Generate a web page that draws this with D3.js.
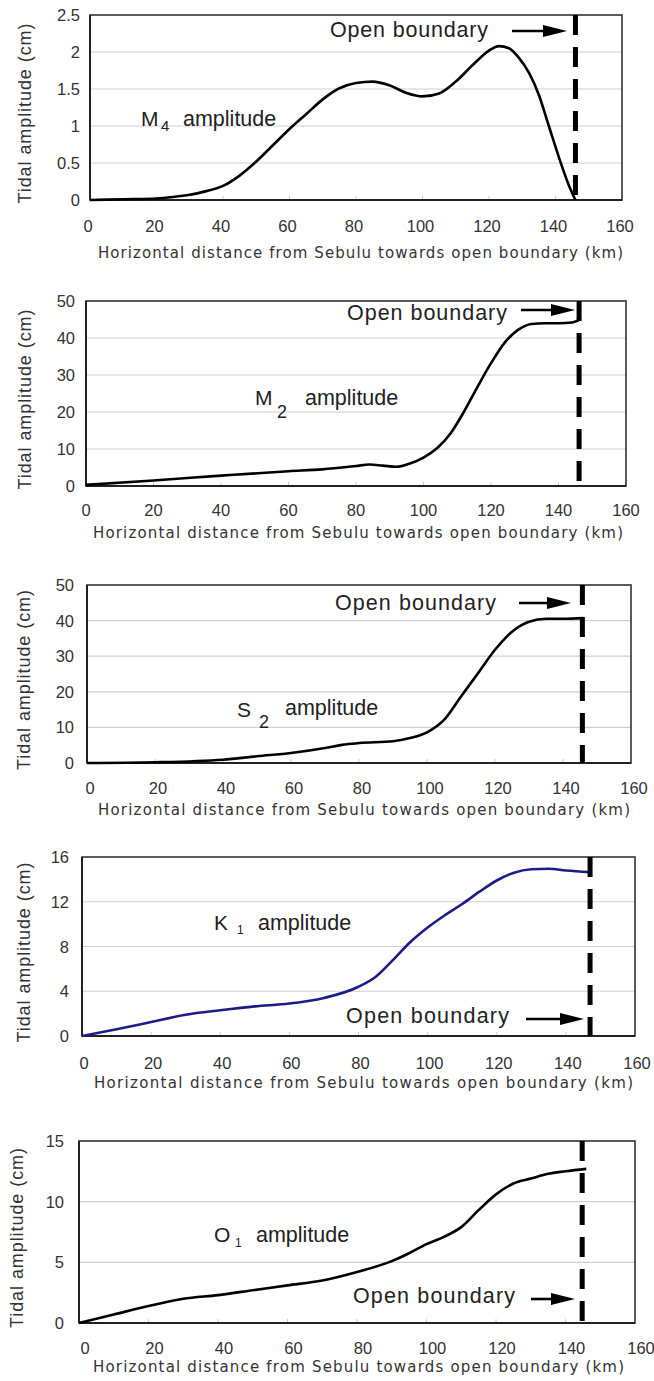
<!DOCTYPE html>
<html>
<head>
<meta charset="utf-8">
<script src="https://cdn.jsdelivr.net/npm/d3@7"></script>
<style>
  body { margin: 0; background: #fff; }
</style>
</head>
<body>
<div id="chart"></div>
<script>
// distance from Sebulu (km) and tidal amplitude (cm)
const m4Km  = [0, 10, 20, 25, 30, 35, 40, 45, 50, 55, 60, 65, 70, 75, 80, 85, 90, 95, 100, 105, 110, 115, 120, 123, 126, 129, 132, 135, 138, 141, 144, 146];
const m4Amp = [0, 0.01, 0.02, 0.04, 0.07, 0.12, 0.19, 0.33, 0.52, 0.74, 0.96, 1.16, 1.36, 1.51, 1.58, 1.6, 1.55, 1.45, 1.4, 1.44, 1.6, 1.82, 2.02, 2.08, 2.05, 1.92, 1.72, 1.42, 1.0, 0.58, 0.2, 0];

const m2Km  = [0, 20, 40, 60, 70, 80, 84, 88, 92, 96, 100, 104, 108, 112, 116, 120, 124, 128, 132, 136, 140, 144, 146];
const m2Amp = [0.3, 1.5, 2.8, 4.0, 4.5, 5.4, 5.8, 5.5, 5.2, 6.1, 7.7, 10.2, 14.2, 20.1, 26.8, 33.2, 38.7, 42.2, 43.8, 44, 44, 44.2, 44.8];

const s2Km  = [0, 20, 40, 50, 60, 70, 75, 80, 90, 95, 100, 105, 110, 115, 120, 125, 130, 135, 140, 146];
const s2Amp = [0, 0.2, 0.9, 1.9, 2.8, 4.2, 5.1, 5.6, 6.1, 7.0, 8.6, 12.1, 18.7, 25.2, 31.8, 36.9, 39.7, 40.5, 40.5, 40.7];

const k1Km  = [0, 10, 20, 30, 40, 50, 60, 70, 80, 85, 90, 95, 100, 105, 110, 115, 120, 125, 130, 135, 140, 147];
const k1Amp = [0, 0.6, 1.25, 1.9, 2.3, 2.65, 2.9, 3.4, 4.4, 5.3, 6.8, 8.4, 9.7, 10.8, 11.8, 12.9, 13.9, 14.6, 14.9, 14.95, 14.8, 14.65];

const o1Km  = [0, 10, 20, 30, 40, 50, 60, 70, 80, 90, 95, 100, 105, 110, 115, 120, 125, 130, 135, 140, 146];
const o1Amp = [0, 0.7, 1.4, 2.0, 2.3, 2.7, 3.1, 3.5, 4.2, 5.1, 5.75, 6.5, 7.1, 7.9, 9.3, 10.6, 11.5, 11.9, 12.3, 12.5, 12.7];

const xTicks  = [0, 20, 40, 60, 80, 100, 120, 140, 160];
const m4Ticks = [0, 0.5, 1, 1.5, 2, 2.5];
const m2Ticks = [0, 10, 20, 30, 40, 50];
const s2Ticks = [0, 10, 20, 30, 40, 50];
const k1Ticks = [0, 4, 8, 12, 16];
const o1Ticks = [0, 5, 10, 15];

const boundaryKm = [146, 146.1, 145.7, 147, 144.8];
const constituents = ["M", "M", "S", "K", "O"];
const subscripts = ["4", "2", "2", "1", "1"];
const lineColors = ["#000", "#000", "#000", "#1c1c86", "#000"];

const series = [
  {km: m4Km, amp: m4Amp, ticks: m4Ticks},
  {km: m2Km, amp: m2Amp, ticks: m2Ticks},
  {km: s2Km, amp: s2Amp, ticks: s2Ticks},
  {km: k1Km, amp: k1Amp, ticks: k1Ticks},
  {km: o1Km, amp: o1Amp, ticks: o1Ticks}
];

const yTitle = "Tidal amplitude (cm)";
const xTitle = "Horizontal distance from Sebulu towards open boundary (km)";

// where each panel sits on the page
const layout = [
  {l: 90, r: 622, t: 15,   b: 200,  gap: 10, ytx: 25, tickY: 226,  titleY: 253,  tl: 98, tr: 623, shift: -2,
   ob: [330, 488, 37],   arrow: [512, 567, 31],   name: [141, 126], sub: [161, 131, 15], rest: [183, 126]},
  {l: 86, r: 626, t: 301,  b: 486,  gap: 11, ytx: 25, tickY: 510,  titleY: 533,  tl: 93, tr: 623, shift: 0,
   ob: [347, 507, 320],  arrow: [521, 575, 310],  name: [255, 405], sub: [277, 418, 18], rest: [305, 405]},
  {l: 87, r: 631, t: 585,  b: 763,  gap: 13, ytx: 24, tickY: 788,  titleY: 810,  tl: 98, tr: 630, shift: 3,
   ob: [335, 496, 610],  arrow: [519, 571, 603],  name: [237, 717], sub: [259, 728, 18], rest: [285, 715]},
  {l: 82, r: 635, t: 857,  b: 1036, gap: 13, ytx: 24, tickY: 1063, titleY: 1083, tl: 94, tr: 633, shift: 2,
   ob: [346, 509, 1023], arrow: [526, 584, 1019], name: [214, 930], sub: [237, 934, 12], rest: [258, 930]},
  {l: 79, r: 635, t: 1141, b: 1323, gap: 15, ytx: 17, tickY: 1348, titleY: 1367, tl: 93, tr: 624, shift: 6,
   ob: [353, 515, 1303], arrow: [531, 575, 1299], name: [214, 1242], sub: [235, 1247, 12], rest: [256, 1242]}
];

const svg = d3.select("#chart").append("svg")
  .attr("width", 654).attr("height", 1381)
  .style("font-family", "'Liberation Sans', Arial, sans-serif");

series.forEach((s, i) => {
  const p = layout[i];
  const x = d3.scaleLinear().domain([0, 160]).range([p.l, p.r]);
  const y = d3.scaleLinear().domain([0, d3.max(s.ticks)]).range([p.b, p.t]);
  const g = svg.append("g");

  // horizontal gridlines
  g.selectAll(".grid").data(s.ticks.slice(1, -1)).enter().append("line")
    .attr("x1", p.l).attr("x2", p.r)
    .attr("y1", d => y(d)).attr("y2", d => y(d))
    .attr("stroke", "#cfcfcf").attr("stroke-width", 1.2);

  // faint tick marks on the bottom axis
  g.selectAll(".xt").data(xTicks.slice(1, -1)).enter().append("line")
    .attr("x1", d => x(d)).attr("x2", d => x(d))
    .attr("y1", p.b).attr("y2", p.b - 4)
    .attr("stroke", "#cccccc").attr("stroke-width", 1);

  // frame
  g.append("rect")
    .attr("x", p.l).attr("y", p.t)
    .attr("width", p.r - p.l).attr("height", p.b - p.t)
    .attr("fill", "none").attr("stroke", "#333").attr("stroke-width", 1.6);
  g.append("line")
    .attr("x1", p.l).attr("x2", p.r).attr("y1", p.b).attr("y2", p.b)
    .attr("stroke", "#222").attr("stroke-width", 2.2);
  g.append("line")
    .attr("x1", p.l).attr("x2", p.l).attr("y1", p.t).attr("y2", p.b)
    .attr("stroke", "#222").attr("stroke-width", 2);

  // y tick labels
  g.selectAll(".yl").data(s.ticks).enter().append("text")
    .attr("x", p.l - p.gap).attr("y", d => y(d) + 6)
    .attr("text-anchor", "end")
    .attr("font-size", 16.5).attr("fill", "#333")
    .text(d => d);

  // x tick labels
  g.selectAll(".xl").data(xTicks).enter().append("text")
    .attr("x", d => x(d) + p.shift).attr("y", p.tickY + 6)
    .attr("text-anchor", "middle")
    .attr("font-size", 16.5).attr("fill", "#333")
    .text(d => d);

  // axis titles
  g.append("text")
    .attr("x", p.tl).attr("y", p.titleY + 5)
    .attr("font-family", "'DejaVu Sans', sans-serif")
    .attr("font-size", 15).attr("fill", "#333")
    .attr("textLength", p.tr - p.tl)
    .text(xTitle);
  g.append("text")
    .attr("transform", `translate(${p.ytx + 6},${(p.t + p.b) / 2 + 6}) rotate(-90)`)
    .attr("text-anchor", "middle")
    .attr("font-size", 18).attr("fill", "#333")
    .attr("textLength", 180)
    .text(yTitle);

  // amplitude curve
  const line = d3.line()
    .x((d, j) => x(s.km[j]))
    .y(d => y(d))
    .curve(d3.curveMonotoneX);
  g.append("path")
    .datum(s.amp)
    .attr("d", line)
    .attr("fill", "none")
    .attr("stroke", lineColors[i])
    .attr("stroke-width", 2.6)
    .attr("stroke-linejoin", "round");

  // open boundary dashed line
  g.append("line")
    .attr("x1", x(boundaryKm[i])).attr("x2", x(boundaryKm[i]))
    .attr("y1", p.t).attr("y2", p.b)
    .attr("stroke", "#000").attr("stroke-width", 5)
    .attr("stroke-dasharray", "20,12");

  // "Open boundary" label and arrow
  g.append("text")
    .attr("x", p.ob[0]).attr("y", p.ob[2])
    .attr("font-size", 21.5).attr("fill", "#222")
    .attr("textLength", p.ob[1] - p.ob[0])
    .text("Open boundary");
  const [a1, a2, ay] = p.arrow;
  g.append("line")
    .attr("x1", a1).attr("x2", a2 - 16).attr("y1", ay).attr("y2", ay)
    .attr("stroke", "#000").attr("stroke-width", 2.6);
  g.append("path")
    .attr("d", `M${a2 - 24},${ay - 6}L${a2},${ay}L${a2 - 24},${ay + 6}Z`)
    .attr("fill", "#000");

  // constituent label with subscript
  g.append("text")
    .attr("x", p.name[0]).attr("y", p.name[1])
    .attr("font-size", 21).attr("fill", "#222")
    .text(constituents[i]);
  g.append("text")
    .attr("x", p.sub[0]).attr("y", p.sub[1])
    .attr("font-size", p.sub[2]).attr("fill", "#222")
    .text(subscripts[i]);
  g.append("text")
    .attr("x", p.rest[0]).attr("y", p.rest[1])
    .attr("font-size", 21.5).attr("fill", "#222")
    .text("amplitude");
});
</script>
</body>
</html>
